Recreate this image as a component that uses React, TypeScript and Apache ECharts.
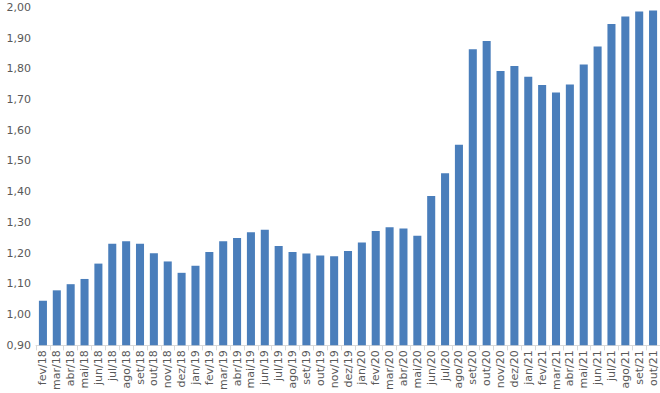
import React, { useEffect, useRef } from "react";
import * as echarts from "echarts";

const categories = [
  "fev/18", "mar/18", "abr/18", "mai/18", "jun/18", "jul/18", "ago/18", "set/18", "out/18", "nov/18", "dez/18",
  "jan/19", "fev/19", "mar/19", "abr/19", "mai/19", "jun/19", "jul/19", "ago/19", "set/19", "out/19", "nov/19", "dez/19",
  "jan/20", "fev/20", "mar/20", "abr/20", "mai/20", "jun/20", "jul/20", "ago/20", "set/20", "out/20", "nov/20", "dez/20",
  "jan/21", "fev/21", "mar/21", "abr/21", "mai/21", "jun/21", "jul/21", "ago/21", "set/21", "out/21",
];

const values = [
  1.045, 1.079, 1.099, 1.116, 1.166, 1.231, 1.239, 1.231, 1.2, 1.173, 1.136,
  1.159, 1.204, 1.239, 1.249, 1.268, 1.276, 1.223, 1.204, 1.199, 1.192, 1.19, 1.207,
  1.235, 1.272, 1.284, 1.28, 1.257, 1.386, 1.46, 1.553, 1.864, 1.891, 1.793, 1.809,
  1.774, 1.747, 1.723, 1.749, 1.814, 1.873, 1.946, 1.97, 1.987, 1.99,
];

const yMin = 0.9;
const yMax = 2.0;
const yStep = 0.1;

export default function App() {
  const ref = useRef<HTMLDivElement>(null);
  useEffect(() => {
    if (!ref.current) return;
    const chart = echarts.init(ref.current, null, { renderer: "svg" });
    chart.setOption({
      animation: false,
      backgroundColor: "#ffffff",
      grid: { left: 36, right: 0, top: 7.4, bottom: 45.6, containLabel: false },
      xAxis: {
        type: "category",
        data: categories,
        axisLine: { show: true, lineStyle: { color: "#d9d9d9", width: 1 } },
        axisTick: { show: true, length: 5, lineStyle: { color: "#d9d9d9" } },
        axisLabel: {
          rotate: 90,
          interval: 0,
          margin: 5,
          color: "#595959",
          fontFamily: "DejaVu Sans",
          fontSize: 11,
        },
      },
      yAxis: {
        type: "value",
        min: yMin,
        max: yMax,
        interval: yStep,
        axisLine: { show: false },
        axisTick: { show: false },
        splitLine: { show: false },
        axisLabel: {
          margin: 5,
          color: "#595959",
          fontFamily: "DejaVu Sans",
          fontSize: 11,
          formatter: (v: number) => v.toFixed(2).replace(".", ","),
        },
      },
      series: [
        {
          type: "bar",
          data: values,
          barWidth: "58%",
          itemStyle: { color: "#4a7ebb" },
        },
      ],
    });
    return () => chart.dispose();
  }, []);
  return (
    <div
      ref={ref}
      style={{ position: "fixed", left: 0, top: 0, width: 660, height: 393, background: "#fff" }}
    />
  );
}
